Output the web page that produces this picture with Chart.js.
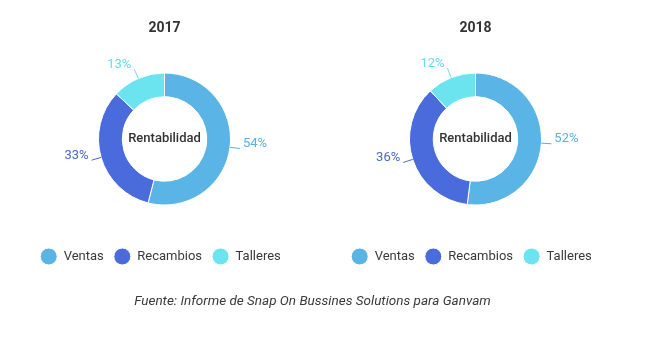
<!DOCTYPE html>
<html>
<head>
<meta charset="utf-8">
<script src="https://cdn.jsdelivr.net/npm/chart.js@4/dist/chart.umd.min.js"></script>
<style>
	body { margin: 0; background: #fff; }
	#wrap { position: relative; width: 650px; height: 342px; overflow: hidden; }
	canvas { position: absolute; top: 0; }
	#fuente {
		position: absolute; left: 0; top: 292px; width: 625px;
		text-align: center; font: italic 13.5px Roboto, sans-serif; line-height: 16px; color: #3a3a3a;
	}
</style>
</head>
<body>
<div id="wrap">
	<canvas id="c2017" width="325" height="342" style="left:1.5px"></canvas>
	<canvas id="c2018" width="325" height="342" style="left:312.5px"></canvas>
	<div id="fuente">Fuente: Informe de Snap On Bussines Solutions para Ganvam</div>
</div>
<script>
const categories = ['Ventas', 'Recambios', 'Talleres'];
const values2017 = [54, 33, 13];
const values2018 = [52, 36, 12];
const colors = ['#5bb4e6', '#4a6bdc', '#6ce4ef'];
const labelColors = ['#59b0e2', '#4a66d0', '#66dced'];

// percentage labels outside each slice, with a short leader line
const outerLabels = {
	id: 'outerLabels',
	afterDatasetsDraw(chart) {
		const ctx = chart.ctx;
		const meta = chart.getDatasetMeta(0);
		const data = chart.data.datasets[0].data;
		ctx.save();
		ctx.font = '13px Roboto, sans-serif';
		ctx.textBaseline = 'alphabetic';
		meta.data.forEach((arc, i) => {
			const a = (arc.startAngle + arc.endAngle) / 2;
			const r = arc.outerRadius;
			const c = Math.cos(a), s = Math.sin(a);
			const x0 = arc.x + r * c, y0 = arc.y + r * s;
			const x1 = arc.x + (r + 10) * c, y1 = arc.y + (r + 10) * s;
			ctx.strokeStyle = labelColors[i];
			ctx.lineWidth = 1;
			ctx.beginPath();
			ctx.moveTo(x0, y0);
			ctx.lineTo(x1, y1);
			ctx.stroke();
			ctx.fillStyle = labelColors[i];
			ctx.textAlign = c >= 0 ? 'left' : 'right';
			ctx.fillText(data[i] + '%', x1 + (c >= 0 ? 3 : -3), y1 - 1.5);
		});
		ctx.restore();
	}
};

const centerText = {
	id: 'centerText',
	afterDatasetsDraw(chart) {
		const arc = chart.getDatasetMeta(0).data[0];
		const ctx = chart.ctx;
		ctx.save();
		ctx.font = '500 13px Roboto, sans-serif';
		ctx.fillStyle = '#333';
		ctx.textAlign = 'center';
		ctx.textBaseline = 'middle';
		ctx.fillText('Rentabilidad', arc.x, arc.y);
		ctx.restore();
	}
};

// nudge the legend a little to the left of the donut
const legendShift = {
	id: 'legendShift',
	afterLayout(chart) {
		chart.legend.left -= 4;
		chart.legend.right -= 4;
	}
};

function makeDonut(id, year, values) {
	return new Chart(document.getElementById(id), {
		type: 'doughnut',
		data: {
			labels: categories,
			datasets: [{
				data: values,
				backgroundColor: colors,
				borderColor: '#fff',
				borderWidth: 1,
				radius: 66,
				cutout: '64%'
			}]
		},
		options: {
			responsive: false,
			animation: false,
			layout: { padding: { bottom: 69 } },
			plugins: {
				title: {
					display: true,
					text: year,
					color: '#333',
					font: { family: 'Roboto', size: 14, weight: 'bold' },
					padding: { top: 20, bottom: 1.2 }
				},
				legend: {
					position: 'bottom',
					labels: {
						usePointStyle: true,
						pointStyle: 'circle',
						pointStyleWidth: 17,
						boxHeight: 12,
						padding: 10,
						color: '#3a3a3a',
						font: { family: 'Roboto', size: 13 }
					}
				},
				tooltip: { enabled: false }
			}
		},
		plugins: [outerLabels, centerText, legendShift]
	});
}

makeDonut('c2017', '2017', values2017);
makeDonut('c2018', '2018', values2018);
</script>
</body>
</html>
